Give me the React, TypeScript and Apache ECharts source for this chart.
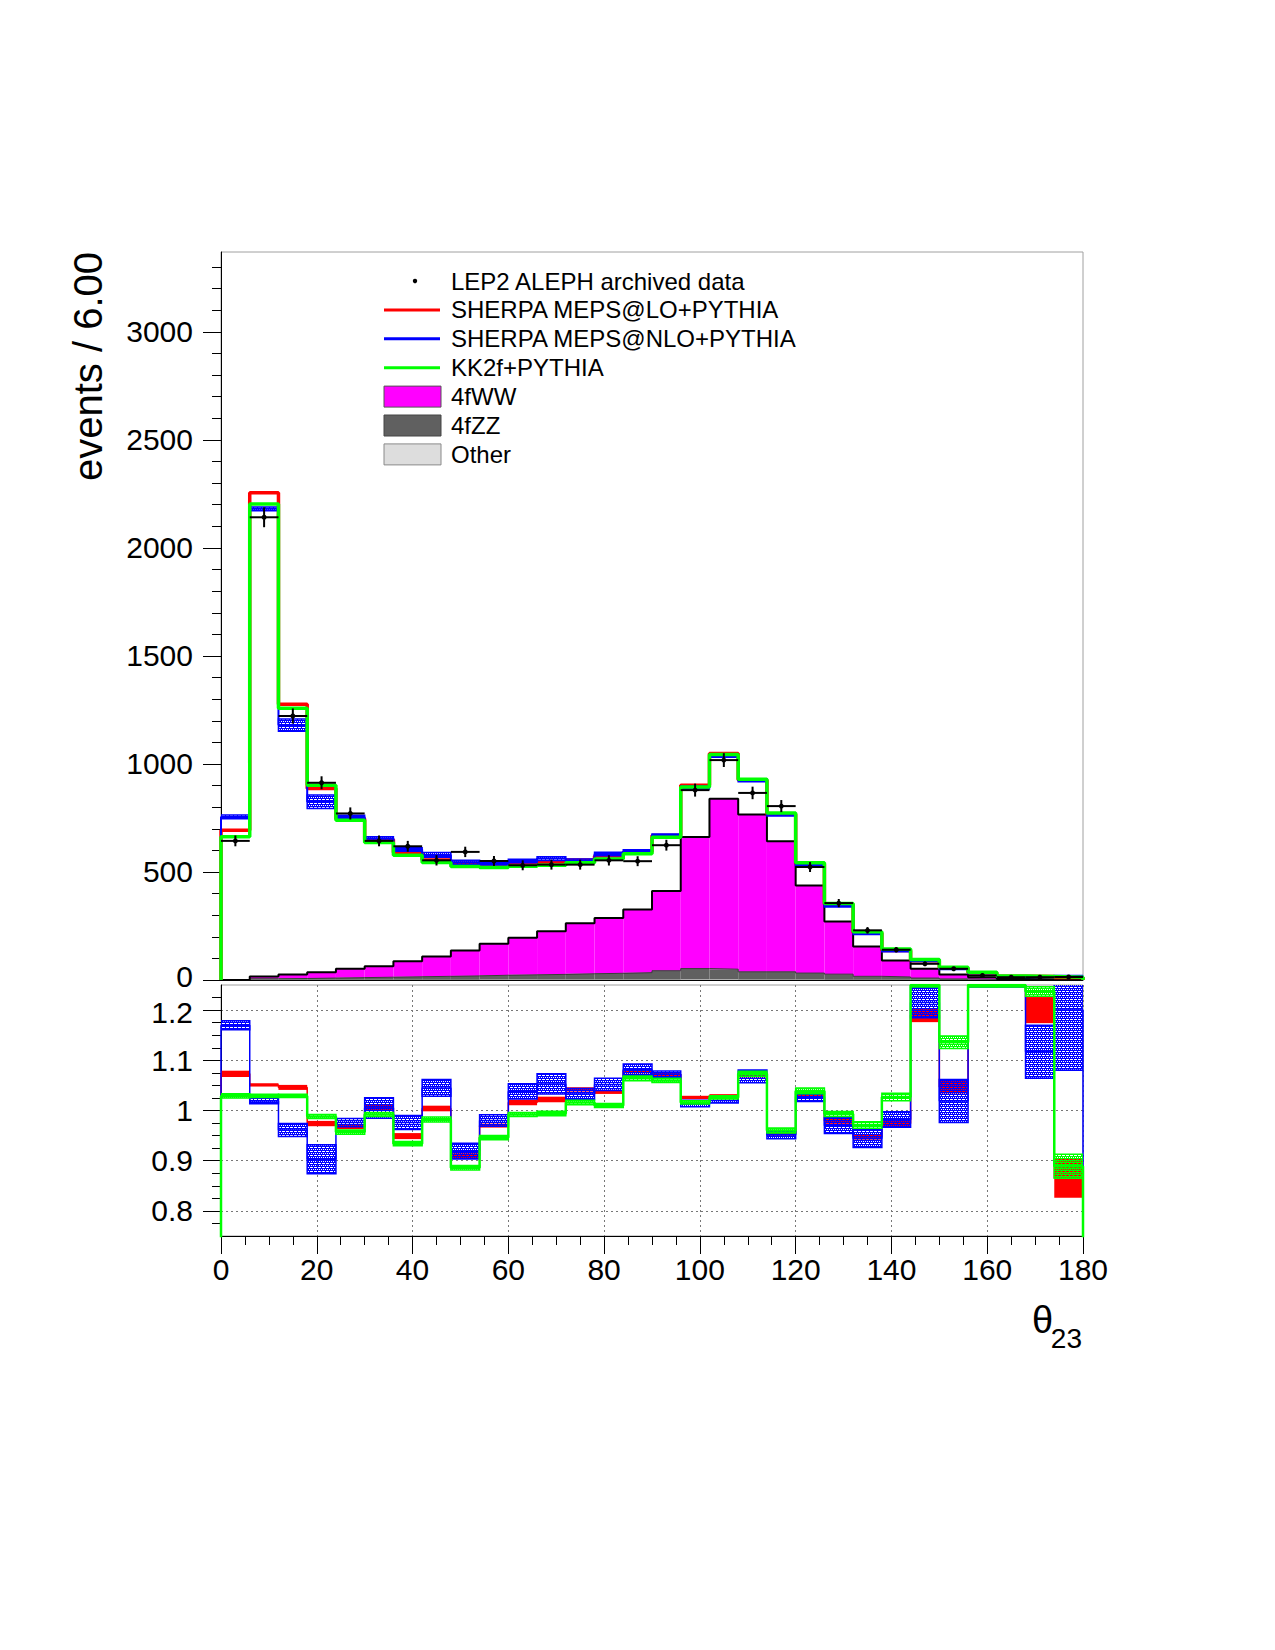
import React, { useEffect, useRef } from "react";
import * as echarts from "echarts";

// ---------- binning ----------
const BIN_WIDTH = 6;
const X_MIN = 0;
const X_MAX = 180;

// ---------- upper panel: events / 6 deg ----------
const dataValues = [644, 2142, 1222, 913, 771, 644, 619, 554, 593, 551, 531, 534, 534, 554, 550, 624, 879, 1018, 866, 805, 523, 356, 230, 140, 75, 52, 21, 13, 13, 14];
const dataErrors = [25, 46, 35, 30, 28, 25, 25, 24, 24, 23, 23, 23, 23, 24, 23, 25, 30, 32, 29, 28, 23, 19, 15, 12, 9, 7, 5, 4, 4, 4];

const sherpaLO = [693, 2255, 1276, 887, 747, 650, 590, 556, 540, 534, 540, 546, 556, 574, 593, 669, 902, 1049, 926, 767, 538, 349, 218, 136, 89, 54, 33, 17, 16, 12];
const sherpaNLO = [755, 2181, 1180, 825, 755, 655, 604, 579, 545, 540, 551, 562, 552, 583, 595, 669, 891, 1038, 925, 766, 537, 345, 217, 137, 91, 53, 33, 17, 15, 17];
const sherpaNLOBand = [9, 9, 28, 31, 8, 8, 8, 11, 9, 8, 8, 9, 8, 8, 8, 7, 7, 7, 7, 7, 7, 7, 6, 6, 5, 4, 3, 3, 3, 4];
const kk2f = [663, 2204, 1258, 902, 739, 636, 578, 544, 525, 521, 527, 531, 543, 560, 585, 661, 893, 1044, 929, 773, 543, 354, 223, 144, 95, 59, 36, 19, 16, 13];

const ww4f = [1, 10, 18, 27, 41, 51, 72, 92, 118, 146, 172, 200, 234, 256, 292, 369, 609, 789, 728, 604, 406, 244, 138, 76, 43, 21, 10, 3, 2, 1];
const zz4f = [0, 5, 6, 8, 10, 12, 14, 16, 18, 20, 22, 24, 27, 29, 32, 41, 50, 47, 36, 36, 30, 26, 16, 13, 8, 5, 3, 2, 1, 1];
const otherBkg = [0, 1, 1, 1, 1, 1, 1, 1, 1, 2, 2, 2, 2, 2, 2, 2, 3, 3, 2, 2, 2, 1, 1, 1, 1, 0, 0, 0, 0, 0];

// ---------- lower panel: MC / data ----------
const ratioLO = [1.073, 1.051, 1.046, 0.974, 0.968, 1.006, 0.949, 1.004, 0.910, 0.970, 1.016, 1.022, 1.042, 1.037, 1.079, 1.072, 1.026, 1.030, 1.069, 0.953, 1.028, 0.979, 0.947, 0.974, 1.190, 1.047, 1.25, 1.25, 1.200, 0.865];
const ratioLOErr = [0.0063, 0.0033, 0.005, 0.0053, 0.005, 0.005, 0.006, 0.0056, 0.005, 0.004, 0.0056, 0.0056, 0.0043, 0.004, 0.005, 0.0033, 0.0033, 0.0025, 0.0033, 0.0033, 0.0033, 0.0056, 0.005, 0.0066, 0.014, 0.013, 0.004, 0.004, 0.026, 0.039];
const ratioNLO = [1.170, 1.019, 0.961, 0.903, 0.976, 1.005, 0.976, 1.045, 0.919, 0.980, 1.038, 1.053, 1.033, 1.052, 1.081, 1.072, 1.014, 1.020, 1.068, 0.951, 1.026, 0.970, 0.944, 0.982, 1.215, 1.019, 1.25, 1.25, 1.117, 1.200];
const ratioNLOErr = [0.009, 0.0056, 0.013, 0.029, 0.0083, 0.0206, 0.014, 0.0166, 0.0156, 0.0116, 0.0153, 0.02, 0.011, 0.0123, 0.0116, 0.0066, 0.0066, 0.005, 0.0126, 0.0073, 0.0083, 0.0156, 0.0176, 0.0156, 0.03, 0.043, 0.004, 0.004, 0.053, 0.12];
const ratioKK = [1.029, 1.029, 1.029, 0.988, 0.957, 0.992, 0.934, 0.982, 0.886, 0.946, 0.992, 0.994, 1.016, 1.010, 1.064, 1.060, 1.016, 1.026, 1.073, 0.960, 1.039, 0.993, 0.971, 1.027, 1.250, 1.136, 1.250, 1.250, 1.237, 0.889];
const ratioKKErr = [0.0043, 0.0033, 0.0033, 0.004, 0.0043, 0.004, 0.0043, 0.005, 0.0043, 0.0043, 0.004, 0.0043, 0.0043, 0.004, 0.0046, 0.0043, 0.0033, 0.0033, 0.005, 0.005, 0.0056, 0.005, 0.0066, 0.0076, 0.004, 0.0126, 0.004, 0.004, 0.0093, 0.024];

// ---------- ticks & labels ----------
const yMainMajor = [0, 500, 1000, 1500, 2000, 2500, 3000];
const yMainMax = 3370;
const ratioMajor = [0.8, 0.9, 1, 1.1, 1.2];
const ratioMin = 0.75;
const ratioMax = 1.25;
const legendLabels = [
  "LEP2 ALEPH archived data",
  "SHERPA MEPS@LO+PYTHIA",
  "SHERPA MEPS@NLO+PYTHIA",
  "KK2f+PYTHIA",
  "4fWW",
  "4fZZ",
  "Other",
];
const yTitle = "events / 6.00";

const FONT = "Liberation Sans, Arial, Helvetica, sans-serif";
const RED = "#ff0000";
const BLUE = "#0000ff";
const GREEN = "#00ff00";
const MAGENTA = "#ff00ff";
const DARKGRAY = "#606060";
const LIGHTGRAY = "#dddddd";

function makePattern(color: string) {
  const c = document.createElement("canvas");
  c.width = 4;
  c.height = 4;
  const ctx = c.getContext("2d");
  if (ctx) {
    ctx.fillStyle = color;
    ctx.fillRect(0, 0, 4, 1);
    ctx.fillRect(0, 1, 1, 1);
    ctx.fillRect(2, 1, 1, 1);
    ctx.fillRect(0, 2, 4, 1);
    ctx.fillRect(1, 3, 1, 1);
  }
  return { image: c.toDataURL(), repeat: "repeat", imageWidth: 4, imageHeight: 4 };
}

function stepData(vals: number[]) {
  const pts: number[][] = [[X_MIN, 0]];
  vals.forEach((v, i) => pts.push([X_MIN + i * BIN_WIDTH, v]));
  pts.push([X_MIN + vals.length * BIN_WIDTH, vals[vals.length - 1]]);
  pts.push([X_MIN + vals.length * BIN_WIDTH, 0]);
  return pts;
}

function stepLine(vals: number[], xi: number, yi: number, color: string, width: number, z: number) {
  return {
    type: "line",
    xAxisIndex: xi,
    yAxisIndex: yi,
    step: "end",
    symbol: "none",
    silent: true,
    clip: true,
    z,
    lineStyle: { color, width },
    data: stepData(vals),
  };
}

function rectSeries(lows: number[], highs: number[], xi: number, yi: number, style: any, z: number) {
  return {
    type: "custom",
    xAxisIndex: xi,
    yAxisIndex: yi,
    silent: true,
    clip: true,
    z,
    data: lows.map((l, i) => [X_MIN + i * BIN_WIDTH, X_MIN + (i + 1) * BIN_WIDTH, l, highs[i]]),
    renderItem: (params: any, api: any) => {
      const a = api.coord([api.value(0), api.value(3)]);
      const b = api.coord([api.value(1), api.value(2)]);
      return {
        type: "rect",
        shape: { x: a[0], y: a[1], width: b[0] - a[0], height: b[1] - a[1] },
        style: { ...style },
      };
    },
  };
}

export default function App() {
  const ref = useRef<HTMLDivElement>(null);

  useEffect(() => {
    if (!ref.current) return;
    const chart = echarts.init(ref.current, null, { renderer: "svg" });
    const bluePat = makePattern(BLUE);
    const greenPat = makePattern(GREEN);

    // stacked backgrounds
    const otherTop = otherBkg.slice();
    const zzTop = zz4f.map((v, i) => v + otherTop[i]);
    const wwTop = ww4f.map((v, i) => v + zzTop[i]);
    const zeros = dataValues.map(() => 0);

    const band = (c: number[], e: number[]) => ({
      lo: c.map((v, i) => v - e[i]),
      hi: c.map((v, i) => v + e[i]),
    });
    const nloUp = band(sherpaNLO, sherpaNLOBand);
    const rLO = band(ratioLO, ratioLOErr);
    const rNLO = band(ratioNLO, ratioNLOErr);
    const rKK = band(ratioKK, ratioKKErr);

    const FS = 30;
    const axisFont = { fontFamily: FONT, fontSize: FS, color: "#000", lineHeight: 26 };
    const tok = { fontFamily: FONT, fontSize: FS, color: "#000", lineHeight: 26 };
    const plain = (v: number) => String(Math.round(v * 1000) / 1000);
    const yMinor: number[] = [];
    for (let v = 100; v <= 3300; v += 100) yMinor.push(v);
    const rMinor: number[] = [];
    for (let k = 1; k < 20; k++) rMinor.push(Math.round((ratioMin + k * 0.025) * 1000) / 1000);

    const rowY = (i: number) => 281 + i * 28.9;
    const legendGraphics: any[] = [];
    legendLabels.forEach((t, i) => {
      legendGraphics.push({
        type: "text",
        x: 451,
        y: rowY(i),
        silent: true,
        style: { text: t, fontFamily: FONT, fontSize: 24, fill: "#000", align: "left", verticalAlign: "middle" },
      });
    });
    legendGraphics.push({ type: "circle", shape: { cx: 415, cy: rowY(0), r: 2.2 }, style: { fill: "#000" }, silent: true });
    [RED, BLUE, GREEN].forEach((c, k) => {
      legendGraphics.push({
        type: "line",
        silent: true,
        shape: { x1: 384, y1: rowY(k + 1), x2: 440, y2: rowY(k + 1) },
        style: { stroke: c, lineWidth: 3 },
      });
    });
    [
      [MAGENTA, "#555"],
      [DARKGRAY, "#444"],
      [LIGHTGRAY, "#8a8a8a"],
    ].forEach((c, k) => {
      legendGraphics.push({
        type: "rect",
        silent: true,
        shape: { x: 384, y: rowY(k + 4) - 10.5, width: 57, height: 21 },
        style: { fill: c[0], stroke: c[1], lineWidth: 1 },
      });
    });

    const option: any = {
      animation: false,
      backgroundColor: "#ffffff",
      grid: [
        { left: 221, top: 252, width: 862, height: 728, show: true, borderColor: "#a0a0a0", borderWidth: 1, backgroundColor: "transparent", outerBoundsMode: "none" },
        { left: 221, top: 985, width: 862, height: 251, show: true, borderColor: "#a0a0a0", borderWidth: 1, backgroundColor: "transparent", outerBoundsMode: "none" },
      ],
      xAxis: [
        {
          gridIndex: 0, type: "value", min: X_MIN, max: X_MAX, interval: 20,
          axisLine: { show: true, onZero: false, lineStyle: { color: "#000", width: 1 } },
          axisTick: { show: false }, minorTick: { show: false },
          axisLabel: { show: false }, splitLine: { show: false },
        },
        {
          gridIndex: 1, type: "value", min: X_MIN, max: X_MAX, interval: 20,
          axisLine: { show: true, onZero: false, lineStyle: { color: "#000", width: 1 } },
          axisTick: { show: true, inside: false, length: 18, lineStyle: { color: "#000", width: 1 } },
          minorTick: { show: true, splitNumber: 4, length: 9, lineStyle: { color: "#000", width: 1 } },
          axisLabel: { ...axisFont, margin: 20, formatter: plain },
          splitLine: { show: true, lineStyle: { color: "#777", type: [2, 3], width: 1 } },
          minorSplitLine: { show: false },
        },
      ],
      yAxis: [
        {
          gridIndex: 0, type: "value", min: 0, max: yMainMax, position: "left",
          axisLine: { show: true, onZero: false, lineStyle: { color: "#000", width: 1 } },
          axisTick: { show: true, inside: false, length: 18, customValues: yMainMajor, lineStyle: { color: "#000", width: 1 } },
          axisLabel: {
            ...axisFont, margin: 28, customValues: yMainMajor,
            formatter: (v: number) => (v === 0 ? "{lo|0}" : plain(v)),
            rich: { lo: { ...tok, padding: [0, 0, 8, 0] } },
          },
          splitLine: { show: false }, minorTick: { show: false },
        },
        {
          gridIndex: 0, type: "value", min: 0, max: yMainMax, position: "left",
          axisLine: { show: false },
          axisTick: { show: true, inside: false, length: 9, customValues: yMinor, lineStyle: { color: "#000", width: 1 } },
          axisLabel: { show: false }, splitLine: { show: false }, minorTick: { show: false },
        },
        {
          gridIndex: 1, type: "value", min: ratioMin, max: ratioMax, position: "left",
          axisLine: { show: true, onZero: false, lineStyle: { color: "#000", width: 1 } },
          axisTick: { show: true, inside: false, length: 18, customValues: ratioMajor, lineStyle: { color: "#000", width: 1 } },
          axisLabel: {
            ...axisFont, margin: 28, customValues: ratioMajor,
            formatter: (v: number) => (Math.abs(v - 1.2) < 1e-6 ? "{hi|1.2}" : plain(v)),
            rich: { hi: { ...tok, padding: [4, 0, 0, 0] } },
          },
          splitLine: { show: true, lineStyle: { color: "#777", type: [2, 3], width: 1 } },
          minorTick: { show: false },
        },
        {
          gridIndex: 1, type: "value", min: ratioMin, max: ratioMax, position: "left",
          axisLine: { show: false },
          axisTick: { show: true, inside: false, length: 9, customValues: rMinor, lineStyle: { color: "#000", width: 1 } },
          axisLabel: { show: false }, splitLine: { show: false }, minorTick: { show: false },
        },
      ],
      graphic: [
        {
          type: "text", x: 88, y: 252, rotation: Math.PI / 2, silent: true,
          style: { text: yTitle, fontFamily: FONT, fontSize: 40, fill: "#000", align: "right", verticalAlign: "middle" },
        },
        {
          type: "text", x: 1032, y: 1320, silent: true,
          style: { text: "θ", fontFamily: FONT, fontSize: 38, fill: "#000", align: "left", verticalAlign: "middle" },
        },
        {
          type: "text", x: 1082, y: 1338, silent: true,
          style: { text: "23", fontFamily: FONT, fontSize: 28, fill: "#000", align: "right", verticalAlign: "middle" },
        },
        ...legendGraphics,
      ],
      series: [
        // ----- upper: stacked backgrounds -----
        rectSeries(zeros, otherTop, 0, 0, { fill: LIGHTGRAY }, 1),
        rectSeries(otherTop, zzTop, 0, 0, { fill: DARKGRAY }, 1),
        rectSeries(zzTop, wwTop, 0, 0, { fill: MAGENTA }, 1),
        stepLine(zzTop, 0, 0, "#3a3a3a", 1, 2),
        stepLine(wwTop, 0, 0, "#000", 2, 2),
        // ----- upper: MC totals -----
        stepLine(sherpaLO, 0, 0, RED, 3.5, 3),
        rectSeries(nloUp.lo, nloUp.hi, 0, 0, { fill: bluePat, stroke: BLUE, lineWidth: 1.5 }, 4),
        stepLine(sherpaNLO, 0, 0, BLUE, 2, 4),
        stepLine(kk2f, 0, 0, GREEN, 3.5, 5),
        // ----- upper: data -----
        {
          type: "custom", xAxisIndex: 0, yAxisIndex: 0, silent: true, z: 6,
          data: dataValues.map((v, i) => [X_MIN + i * BIN_WIDTH, X_MIN + (i + 1) * BIN_WIDTH, v, dataErrors[i]]),
          renderItem: (params: any, api: any) => {
            const x0 = api.value(0), x1 = api.value(1), v = api.value(2), e = api.value(3);
            const xc = (x0 + x1) / 2;
            const pl = api.coord([x0, v]);
            const pr = api.coord([x1, v]);
            const pt = api.coord([xc, v + e]);
            const pb = api.coord([xc, v - e]);
            const pc = api.coord([xc, v]);
            return {
              type: "group",
              children: [
                { type: "line", shape: { x1: pl[0], y1: pl[1], x2: pr[0], y2: pr[1] }, style: { stroke: "#000", lineWidth: 2 } },
                { type: "line", shape: { x1: pt[0], y1: pt[1], x2: pb[0], y2: pb[1] }, style: { stroke: "#000", lineWidth: 2 } },
                { type: "circle", shape: { cx: pc[0], cy: pc[1], r: 2.5 }, style: { fill: "#000" } },
              ],
            };
          },
        },
        // ----- lower: ratios -----
        rectSeries(rLO.lo, rLO.hi, 1, 2, { fill: RED }, 3),
        stepLine(ratioLO, 1, 2, RED, 1.5, 3),
        rectSeries(rNLO.lo, rNLO.hi, 1, 2, { fill: bluePat, stroke: BLUE, lineWidth: 1.5 }, 4),
        stepLine(ratioNLO, 1, 2, BLUE, 1.5, 4),
        rectSeries(rKK.lo, rKK.hi, 1, 2, { fill: greenPat, stroke: GREEN, lineWidth: 1.5 }, 5),
        stepLine(ratioKK, 1, 2, GREEN, 2.5, 5),
      ],
    };

    chart.setOption(option);
    return () => chart.dispose();
  }, []);

  return (
    <div
      ref={ref}
      style={{ position: "absolute", left: 0, top: 0, width: 1275, height: 1650, background: "#ffffff" }}
    />
  );
}
